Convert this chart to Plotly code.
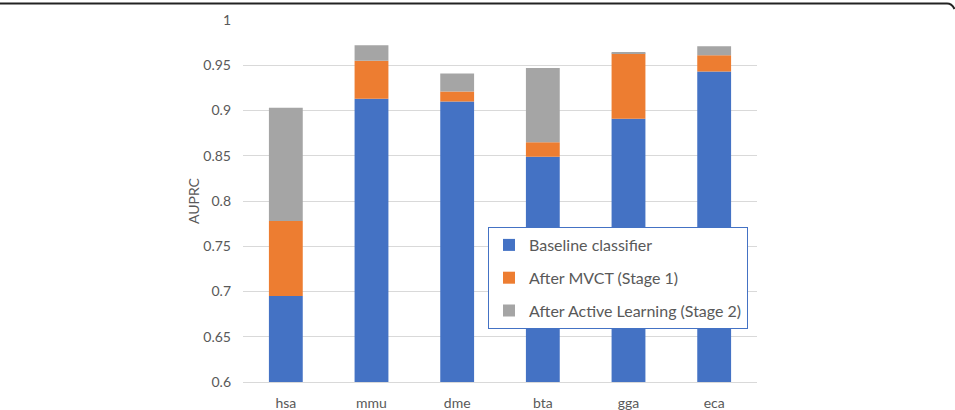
import plotly.graph_objects as go

categories = ["hsa", "mmu", "dme", "bta", "gga", "eca"]
baseline = [0.695, 0.913, 0.910, 0.849, 0.891, 0.943]
after_mvct = [0.778, 0.955, 0.921, 0.865, 0.963, 0.961]
after_al = [0.903, 0.972, 0.941, 0.947, 0.964, 0.971]

series_names = ["Baseline classifier", "After MVCT (Stage 1)", "After Active Learning (Stage 2)"]
colors = ["#4472C4", "#ED7D31", "#A5A5A5"]

# stacked segments: baseline from 0.6, then increments
seg1 = [b - 0.6 for b in baseline]
seg2 = [m - b for m, b in zip(after_mvct, baseline)]
seg3 = [a - m for a, m in zip(after_al, after_mvct)]

fig = go.Figure()
fig.add_trace(go.Bar(x=categories, y=seg1, base=[0.6] * len(categories), name=series_names[0],
                     marker=dict(color=colors[0], line=dict(width=0)), legendgroup="a"))
fig.add_trace(go.Bar(x=categories, y=seg2, base=baseline, name=series_names[1],
                     marker=dict(color=colors[1], line=dict(width=0)), legendgroup="b"))
fig.add_trace(go.Bar(x=categories, y=seg3, base=after_mvct, name=series_names[2],
                     marker=dict(color=colors[2], line=dict(width=0)), legendgroup="c"))

L, R, T, B = 243, 198, 20, 28
W, H = 955, 410
pw, ph = W - L - R, H - T - B

def px(x):
    return (x - L) / pw

def py(y):
    return (H - B - y) / ph

font_family = "Lato, 'Open Sans', sans-serif"

fig.update_layout(
    width=W, height=H,
    margin=dict(l=L, r=R, t=T, b=B, pad=0, autoexpand=False),
    barmode="overlay",
    bargap=0.605,
    plot_bgcolor="white", paper_bgcolor="white",
    font=dict(family=font_family, color="#595959", size=14),
    showlegend=True,
    legend=dict(
        x=px(488), y=py(227), xanchor="left", yanchor="top",
        bordercolor="#4472C4", borderwidth=1, bgcolor="white",
        font=dict(size=16, color="#595959"),
        traceorder="grouped", tracegroupgap=9,
        itemclick=False,
    ),
    xaxis=dict(
        showgrid=False, showline=True, linecolor="#D9D9D9", linewidth=1,
        ticks="", tickfont=dict(size=14, color="#595959"),
        automargin=False, ticklabelstandoff=8,
    ),
    yaxis=dict(
        range=[0.6, 1.0], tickmode="array",
        tickvals=[0.6, 0.65, 0.7, 0.75, 0.8, 0.85, 0.9, 0.95, 1.0],
        ticktext=["0.6", "0.65", "0.7", "0.75", "0.8", "0.85", "0.9", "0.95", "1"],
        showgrid=True, gridcolor="#D9D9D9", gridwidth=1,
        zeroline=False, showline=False, ticks="",
        ticklabelstandoff=11, automargin=False,
        tickfont=dict(size=14, color="#595959"),
        title=dict(text="AUPRC", font=dict(size=14, color="#595959"), standoff=0),
    ),
    shapes=[
        dict(type="path", xref="paper", yref="paper",
             path=f"M {px(0)} {py(3.5)} L {px(947)} {py(3.5)} Q {px(952)} {py(3.5)} {px(954.5)} {py(9)}",
             line=dict(color="#222222", width=2)),
    ],
)

fig.write_html("out.html")
